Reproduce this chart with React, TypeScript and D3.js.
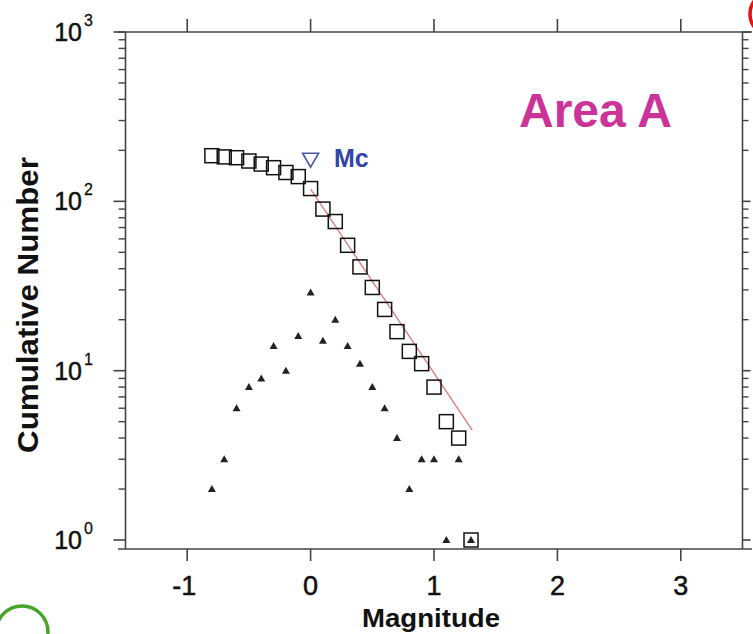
import React from 'react';
import * as d3 from 'd3';

// magnitude bins (0.1 steps)
const magnitudes = [-0.8, -0.7, -0.6, -0.5, -0.4, -0.3, -0.2, -0.1, 0.0, 0.1, 0.2, 0.3, 0.4, 0.5, 0.6, 0.7, 0.8, 0.9, 1.0, 1.1, 1.2, 1.3];
// cumulative number (squares)
const cumulative = [186, 183, 181, 173, 166, 158, 148, 140, 119, 90, 76, 55, 41, 31, 23, 17, 13, 11, 8, 5, 4, 1];
// non-cumulative number (triangles)
const perBin = [2, 3, 6, 8, 9, 14, 10, 16, 29, 15, 20, 14, 11, 8, 6, 4, 2, 3, 3, 1, 3, 1];
// fitted line end points
const fitMag = [0, 1.31];
const fitN = [118, 4.45];
// completeness magnitude marker
const mcMag = 0;
const mcN = 175;

const xTicks = [-1, 0, 1, 2, 3];
const yDecades = [0, 1, 2, 3];

const W = 753;
const H = 634;
const FONT = "'Liberation Sans', Arial, sans-serif";
const AXIS = '#444';

export default function App() {
  const x = d3.scaleLinear().domain([-1.5, 3.5]).range([125.5, 742.5]);
  const y = d3.scaleLog().domain([0.885, 1000]).range([549, 32]);

  const left = x(-1.5);
  const right = x(3.5);
  const top = y(1000);
  const bottom = y(0.885);

  const minorTicks: number[] = [];
  for (let k = 0; k < 3; k++) {
    for (let m = 2; m <= 9; m++) minorTicks.push(m * Math.pow(10, k));
  }

  const fitLine = d3
    .line<number>()
    .x((d) => x(fitMag[d]))
    .y((d) => y(fitN[d]));

  const sq = 14;
  const tri = (cx: number, cy: number) =>
    `M${cx - 4},${cy + 3} L${cx + 4},${cy + 3} L${cx},${cy - 4} Z`;

  const mx = x(mcMag);
  const my = y(mcN);

  // blurry scan: tick labels look a bit heavier than plain regular
  const tickText = { fill: '#111', stroke: '#111', strokeWidth: 0.5 };

  return (
    <svg
      width={W}
      height={H}
      style={{ position: 'absolute', left: 0, top: 0, background: '#fff', overflow: 'hidden' }}
      fontFamily={FONT}
    >
      {/* frame */}
      <line x1={118} x2={752} y1={top} y2={top} stroke={AXIS} strokeWidth={1.6} />
      <line x1={118} x2={752} y1={bottom} y2={bottom} stroke={AXIS} strokeWidth={1.6} />
      <line x1={left} x2={left} y1={top} y2={bottom} stroke={AXIS} strokeWidth={1.6} />
      <line x1={right} x2={right} y1={top} y2={bottom} stroke={AXIS} strokeWidth={1.6} />

      {/* x ticks */}
      {xTicks.map((t) => (
        <g key={'xt' + t}>
          <line x1={x(t)} x2={x(t)} y1={bottom} y2={bottom + 12} stroke={AXIS} strokeWidth={1.6} />
          <line x1={x(t)} x2={x(t)} y1={top} y2={top - 13} stroke={AXIS} strokeWidth={1.6} />
          <text x={x(t) - (t < 0 ? 3 : 0)} y={595} textAnchor="middle" fontSize={27} {...tickText}>
            {t < 0 ? '-' + Math.abs(t) : t}
          </text>
        </g>
      ))}

      {/* y ticks */}
      {yDecades.map((k) => {
        const v = Math.pow(10, k);
        return (
          <g key={'yt' + k}>
            <line x1={left - 12} x2={left} y1={y(v)} y2={y(v)} stroke={AXIS} strokeWidth={1.6} />
            <line x1={right} x2={right + 8} y1={y(v)} y2={y(v)} stroke={AXIS} strokeWidth={1.6} />
            <text x={82} y={y(v) + 9} textAnchor="end" fontSize={25} {...tickText}>10</text>
            <text x={84} y={y(v) - 6} textAnchor="start" fontSize={16} {...tickText} strokeWidth={0.3}>{k}</text>
          </g>
        );
      })}
      {minorTicks.map((v) => (
        <g key={'ym' + v}>
          <line x1={left - 7} x2={left} y1={y(v)} y2={y(v)} stroke={AXIS} strokeWidth={1.4} />
          <line x1={right} x2={right + 6} y1={y(v)} y2={y(v)} stroke={AXIS} strokeWidth={1.4} />
        </g>
      ))}

      {/* axis titles */}
      <text
        transform={`translate(38,305) rotate(-90)`}
        textAnchor="middle"
        fontSize={29}
        fontWeight="bold"
        fill="#111"
        textLength={296}
        lengthAdjust="spacingAndGlyphs"
      >
        Cumulative Number
      </text>
      <text
        x={431}
        y={627}
        textAnchor="middle"
        fontSize={25}
        fontWeight="bold"
        fill="#111"
        textLength={138}
        lengthAdjust="spacingAndGlyphs"
      >
        Magnitude
      </text>

      {/* fit line */}
      <path d={fitLine([0, 1]) || ''} fill="none" stroke="#e07878" strokeWidth={1.3} />

      {/* non-cumulative triangles */}
      {magnitudes.map((m, i) => (
        <path key={'tr' + i} d={tri(x(m), y(perBin[i]))} fill="#222" />
      ))}

      {/* cumulative squares */}
      {magnitudes.map((m, i) => (
        <rect
          key={'sq' + i}
          x={x(m) - sq / 2}
          y={y(cumulative[i]) - sq / 2}
          width={sq}
          height={sq}
          fill="none"
          stroke="#111"
          strokeWidth={1.5}
        />
      ))}

      {/* Mc marker */}
      <path
        d={`M${mx - 8},${my - 7} L${mx + 8},${my - 7} L${mx},${my + 7} Z`}
        fill="none"
        stroke="#4a56a8"
        strokeWidth={1.6}
      />
      <text x={334} y={167} fontSize={25} fontWeight="bold" fill="#2f45a8">Mc</text>

      {/* area label */}
      <text x={519} y={127} fontSize={48} fontWeight="bold" fill="#cc3399">Area A</text>

      {/* annotation circles cut by the page edge */}
      <circle cx={772} cy={14} r={22} fill="none" stroke="#e81010" strokeWidth={3.5} />
      <circle cx={22} cy={632} r={26} fill="none" stroke="#49a52a" strokeWidth={3.5} />
    </svg>
  );
}
